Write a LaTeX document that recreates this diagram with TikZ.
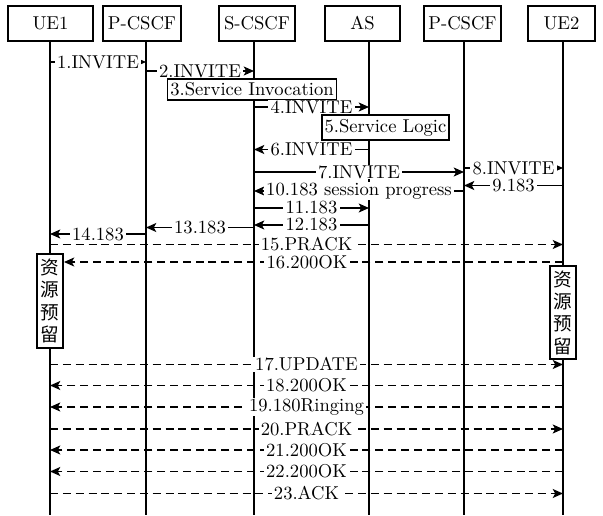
\documentclass[tikz,border=0pt]{standalone}
\usepackage{fontspec}
\newfontfamily\cjk{Noto Sans CJK SC}
\usetikzlibrary{arrows.meta}
\def\u{0.5376pt}
\begin{document}
\begin{tikzpicture}[x=0.5376pt,y=-0.5376pt,
  hdr/.style={draw,line width=1pt,fill=white,minimum height=35*\u,inner sep=1pt},
  life/.style={line width=1pt},
  msg/.style={line width=0.9pt,-{Stealth[length=5.5pt,width=4.8pt,inset=1.3pt]}},
  dmsg/.style={msg,dash pattern=on 4.3pt off 2.6pt},
  lbl/.style={fill=white,inner xsep=1.2pt,inner ysep=0.3pt,midway},
  actbox/.style={draw,line width=1pt,fill=white,inner xsep=1.5pt,inner ysep=2pt},
  resbox/.style={draw,line width=1pt,fill=white,font=\cjk,align=center,inner xsep=2pt,inner ysep=2.5pt}]
\useasboundingbox (0,0) rectangle (603,515);
% header boxes
\node[hdr,minimum width=85*\u] (ue1) at (50.5,23.5) {UE1};
\node[hdr,minimum width=78*\u] (pc1) at (142,23.5) {P-CSCF};
\node[hdr,minimum width=76*\u] (sc) at (257,23.5) {S-CSCF};
\node[hdr,minimum width=75*\u] (as) at (362.5,23.5) {AS};
\node[hdr,minimum width=77*\u] (pc2) at (462.5,23.5) {P-CSCF};
\node[hdr,minimum width=67*\u] (ue2) at (561.5,23.5) {UE2};
% lifeline anchors
\coordinate (L1) at (50,41);  \coordinate (B1) at (50,515);
\coordinate (L2) at (146,41); \coordinate (B2) at (146,515);
\coordinate (L3) at (254,41); \coordinate (B3) at (254,515);
\coordinate (L4) at (369,41); \coordinate (B4) at (369,515);
\coordinate (L5) at (464,41); \coordinate (B5) at (464,515);
\coordinate (L6) at (563,41); \coordinate (B6) at (563,515);
\foreach \i in {1,...,6} \draw[life] (L\i) -- (B\i);
% messages
\draw[msg] (L1 |- 0,62) -- node[lbl]{1.INVITE} (L2 |- 0,62);
\draw[msg] (L2 |- 0,71) -- node[lbl]{2.INVITE} (L3 |- 0,71);
\node[actbox] (si) at (252,89.5) {3.Service Invocation};
\draw[msg] (L3 |- 0,107) -- node[lbl]{4.INVITE} (L4 |- 0,107);
\node[actbox] (sl) at (385.5,127.5) {5.Service Logic};
\draw[msg] (L4 |- 0,149.5) -- node[lbl]{6.INVITE} (L3 |- 0,149.5);
\draw[msg] (L3 |- 0,172) -- node[lbl]{7.INVITE} (L5 |- 0,172);
\draw[msg] (L5 |- 0,168) -- node[lbl]{8.INVITE} (L6 |- 0,168);
\draw[msg] (L6 |- 0,185.5) -- node[lbl]{9.183} (L5 |- 0,185.5);
\draw[msg] (L5 |- 0,191) -- node[lbl]{10.183 session progress} (L3 |- 0,191);
\draw[msg] (L3 |- 0,208) -- node[lbl]{11.183} (L4 |- 0,208);
\draw[msg] (L4 |- 0,225) -- node[lbl]{12.183} (L3 |- 0,225);
\draw[msg] (L3 |- 0,227.5) -- node[lbl]{13.183} (L2 |- 0,227.5);
\draw[msg] (L2 |- 0,234) -- node[lbl]{14.183} (L1 |- 0,234);
\draw[dmsg] (L1 |- 0,244.5) -- node[lbl]{15.PRACK} (L6 |- 0,244.5);
\node[resbox] (r1) at (50,301) {资\\源\\预\\留};
\node[resbox] (r2) at (563,312.5) {资\\源\\预\\留};
\draw[dmsg] (L6 |- 0,262) -- node[lbl,pos=0.513]{16.200OK} (r1.east |- 0,262);
\draw[dmsg] (L1 |- 0,364.5) -- node[lbl]{17.UPDATE} (L6 |- 0,364.5);
\draw[dmsg] (L6 |- 0,385.5) -- node[lbl]{18.200OK} (L1 |- 0,385.5);
\draw[dmsg] (L6 |- 0,407) -- node[lbl]{19.180Ringing} (L1 |- 0,407);
\draw[dmsg] (L1 |- 0,429) -- node[lbl]{20.PRACK} (L6 |- 0,429);
\draw[dmsg] (L6 |- 0,450) -- node[lbl]{21.200OK} (L1 |- 0,450);
\draw[dmsg] (L6 |- 0,471.5) -- node[lbl]{22.200OK} (L1 |- 0,471.5);
\draw[dmsg] (L1 |- 0,493.5) -- node[lbl]{23.ACK} (L6 |- 0,493.5);
\end{tikzpicture}
\end{document}
